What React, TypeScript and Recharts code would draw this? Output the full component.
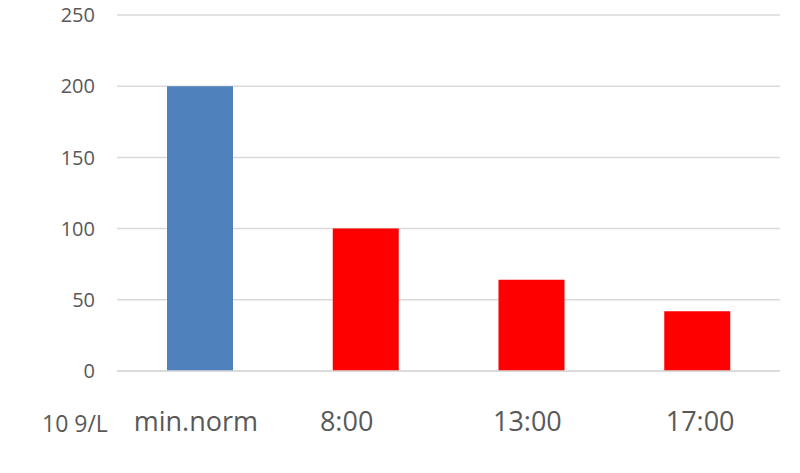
import React from "react";
import { BarChart, Bar, XAxis, YAxis, CartesianGrid, Cell } from "recharts";

const categories = ["min.norm", "8:00", "13:00", "17:00"];
const values = [200, 100, 64, 42];
const barColors = ["#4F81BD", "#FF0000", "#FF0000", "#FF0000"];
const yTicks = [0, 50, 100, 150, 200, 250];
const unitLabel = "10 9/L";

const data = categories.map((c, i) => ({ name: c, value: values[i] }));

// small horizontal nudges of category labels, as in the original layout
const LABEL_NUDGE: Record<string, number> = { "min.norm": -4, "8:00": -19, "13:00": -4, "17:00": 3 };

function CategoryTick(props: any) {
  const { x, y, payload } = props;
  const v = payload.value as string;
  return (
    <text
      x={x + (LABEL_NUDGE[v] ?? 0)}
      y={y}
      dy="0.71em"
      textAnchor="middle"
      fill="#595959"
      fontSize={27}
      fontFamily="Open Sans"
    >
      {v}
    </text>
  );
}

export default function App() {
  return (
    <div style={{ position: "absolute", left: 0, top: 0, width: 800, height: 473, background: "#fff" }}>
      <BarChart
        width={800}
        height={473}
        data={data}
        margin={{ top: 15, right: 20, left: 0, bottom: 0 }}
      >
        <CartesianGrid horizontal vertical={false} stroke="#d9d9d9" strokeWidth={1.5} />
        <XAxis
          dataKey="name"
          height={102}
          axisLine={{ stroke: "#d9d9d9", strokeWidth: 1.5 }}
          tickLine={false}
          tickMargin={35}
          tick={<CategoryTick />}
          interval={0}
        />
        <YAxis
          width={117}
          domain={[0, 250]}
          ticks={yTicks}
          axisLine={false}
          tickLine={false}
          tickMargin={16}
          tick={{ fill: "#595959", fontSize: 20, fontFamily: "Open Sans" }}
        />
        <Bar dataKey="value" barSize={66} isAnimationActive={false}>
          {data.map((d, i) => (
            <Cell key={d.name} fill={barColors[i]} />
          ))}
        </Bar>
      </BarChart>
      <div
        style={{
          position: "absolute",
          left: 42,
          top: 408,
          fontFamily: "Open Sans",
          fontSize: 23,
          color: "#595959",
          lineHeight: "30px",
          whiteSpace: "nowrap",
        }}
      >
        {unitLabel}
      </div>
    </div>
  );
}
